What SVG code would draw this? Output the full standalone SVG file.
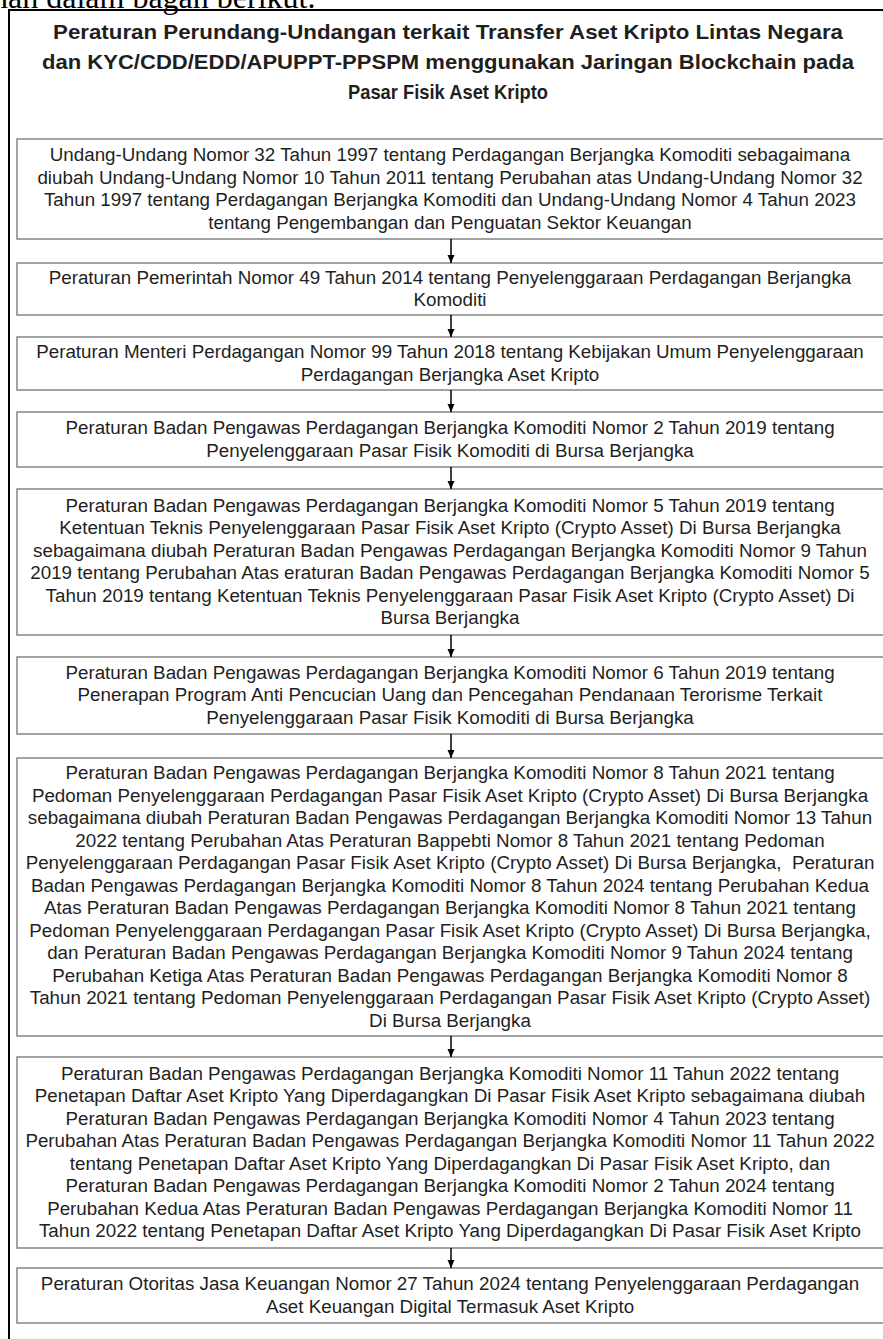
<svg xmlns="http://www.w3.org/2000/svg" width="883" height="1339" viewBox="0 0 883 1339">
<style>
.bg{fill:#fff}
.frame{fill:none;stroke:#000;stroke-width:2}
.box{fill:#fff;stroke:#858585;stroke-width:1.5}
.t{font-family:"Liberation Sans",Arial,sans-serif;font-size:18.8px;fill:#1f1f1f;text-anchor:middle}
.title{font-family:"Liberation Sans",Arial,sans-serif;font-size:20.5px;font-weight:bold;fill:#1f1f1f;text-anchor:middle}
.top{font-family:"Liberation Serif","Times New Roman",serif;font-size:32px;fill:#000}
.conn line{stroke:#000;stroke-width:1.5}
</style>
<defs>
<marker id="ah" viewBox="0 0 8 8" refX="8" refY="4" markerWidth="8" markerHeight="8" markerUnits="userSpaceOnUse" orient="auto">
<path d="M0,0.5 L8,4 L0,7.5 z" fill="#000"/>
</marker>
</defs>
<rect class="bg" x="0" y="0" width="883" height="1339"/>
<text class="top" x="-8" y="8">nah dalam bagan berikut.</text>
<path class="frame" d="M9,1339 V10 H890"/>
<g id="title">
<text class="title" x="448" y="39" textLength="790" lengthAdjust="spacingAndGlyphs">Peraturan Perundang-Undangan terkait Transfer Aset Kripto Lintas Negara</text>
<text class="title" x="448" y="69" textLength="812" lengthAdjust="spacingAndGlyphs">dan KYC/CDD/EDD/APUPPT-PPSPM menggunakan Jaringan Blockchain pada</text>
<text class="title" x="448" y="99" textLength="200" lengthAdjust="spacingAndGlyphs">Pasar Fisik Aset Kripto</text>
</g>
<g id="n1">
<rect class="box" x="17" y="139" width="880" height="100"/>
<text class="t" x="450" y="161">Undang-Undang Nomor 32 Tahun 1997 tentang Perdagangan Berjangka Komoditi sebagaimana</text>
<text class="t" x="450" y="184">diubah Undang-Undang Nomor 10 Tahun 2011 tentang Perubahan atas Undang-Undang Nomor 32</text>
<text class="t" x="450" y="206">Tahun 1997 tentang Perdagangan Berjangka Komoditi dan Undang-Undang Nomor 4 Tahun 2023</text>
<text class="t" x="450" y="229">tentang Pengembangan dan Penguatan Sektor Keuangan</text>
</g>
<g id="n2">
<rect class="box" x="17" y="263" width="880" height="52"/>
<text class="t" x="450" y="284">Peraturan Pemerintah Nomor 49 Tahun 2014 tentang Penyelenggaraan Perdagangan Berjangka</text>
<text class="t" x="450" y="306">Komoditi</text>
</g>
<g id="n3">
<rect class="box" x="17" y="337" width="880" height="53"/>
<text class="t" x="450" y="358">Peraturan Menteri Perdagangan Nomor 99 Tahun 2018 tentang Kebijakan Umum Penyelenggaraan</text>
<text class="t" x="450" y="381">Perdagangan Berjangka Aset Kripto</text>
</g>
<g id="n4">
<rect class="box" x="17" y="412" width="880" height="55"/>
<text class="t" x="450" y="434">Peraturan Badan Pengawas Perdagangan Berjangka Komoditi Nomor 2 Tahun 2019 tentang</text>
<text class="t" x="450" y="457">Penyelenggaraan Pasar Fisik Komoditi di Bursa Berjangka</text>
</g>
<g id="n5">
<rect class="box" x="17" y="489" width="880" height="146"/>
<text class="t" x="450" y="512">Peraturan Badan Pengawas Perdagangan Berjangka Komoditi Nomor 5 Tahun 2019 tentang</text>
<text class="t" x="450" y="534">Ketentuan Teknis Penyelenggaraan Pasar Fisik Aset Kripto (Crypto Asset) Di Bursa Berjangka</text>
<text class="t" x="450" y="557">sebagaimana diubah Peraturan Badan Pengawas Perdagangan Berjangka Komoditi Nomor 9 Tahun</text>
<text class="t" x="450" y="579">2019 tentang Perubahan Atas eraturan Badan Pengawas Perdagangan Berjangka Komoditi Nomor 5</text>
<text class="t" x="450" y="602">Tahun 2019 tentang Ketentuan Teknis Penyelenggaraan Pasar Fisik Aset Kripto (Crypto Asset) Di</text>
<text class="t" x="450" y="624">Bursa Berjangka</text>
</g>
<g id="n6">
<rect class="box" x="17" y="657" width="880" height="77"/>
<text class="t" x="450" y="679">Peraturan Badan Pengawas Perdagangan Berjangka Komoditi Nomor 6 Tahun 2019 tentang</text>
<text class="t" x="450" y="701">Penerapan Program Anti Pencucian Uang dan Pencegahan Pendanaan Terorisme Terkait</text>
<text class="t" x="450" y="724">Penyelenggaraan Pasar Fisik Komoditi di Bursa Berjangka</text>
</g>
<g id="n7">
<rect class="box" x="17" y="758" width="880" height="278"/>
<text class="t" x="450" y="779">Peraturan Badan Pengawas Perdagangan Berjangka Komoditi Nomor 8 Tahun 2021 tentang</text>
<text class="t" x="450" y="802">Pedoman Penyelenggaraan Perdagangan Pasar Fisik Aset Kripto (Crypto Asset) Di Bursa Berjangka</text>
<text class="t" x="450" y="824">sebagaimana diubah Peraturan Badan Pengawas Perdagangan Berjangka Komoditi Nomor 13 Tahun</text>
<text class="t" x="450" y="847">2022 tentang Perubahan Atas Peraturan Bappebti Nomor 8 Tahun 2021 tentang Pedoman</text>
<text class="t" x="450" y="869">Penyelenggaraan Perdagangan Pasar Fisik Aset Kripto (Crypto Asset) Di Bursa Berjangka,&#160; Peraturan</text>
<text class="t" x="450" y="892">Badan Pengawas Perdagangan Berjangka Komoditi Nomor 8 Tahun 2024 tentang Perubahan Kedua</text>
<text class="t" x="450" y="914">Atas Peraturan Badan Pengawas Perdagangan Berjangka Komoditi Nomor 8 Tahun 2021 tentang</text>
<text class="t" x="450" y="937">Pedoman Penyelenggaraan Perdagangan Pasar Fisik Aset Kripto (Crypto Asset) Di Bursa Berjangka,</text>
<text class="t" x="450" y="959">dan Peraturan Badan Pengawas Perdagangan Berjangka Komoditi Nomor 9 Tahun 2024 tentang</text>
<text class="t" x="450" y="982">Perubahan Ketiga Atas Peraturan Badan Pengawas Perdagangan Berjangka Komoditi Nomor 8</text>
<text class="t" x="450" y="1004">Tahun 2021 tentang Pedoman Penyelenggaraan Perdagangan Pasar Fisik Aset Kripto (Crypto Asset)</text>
<text class="t" x="450" y="1027">Di Bursa Berjangka</text>
</g>
<g id="n8">
<rect class="box" x="17" y="1057" width="880" height="191"/>
<text class="t" x="450" y="1080">Peraturan Badan Pengawas Perdagangan Berjangka Komoditi Nomor 11 Tahun 2022 tentang</text>
<text class="t" x="450" y="1102">Penetapan Daftar Aset Kripto Yang Diperdagangkan Di Pasar Fisik Aset Kripto sebagaimana diubah</text>
<text class="t" x="450" y="1125">Peraturan Badan Pengawas Perdagangan Berjangka Komoditi Nomor 4 Tahun 2023 tentang</text>
<text class="t" x="450" y="1147">Perubahan Atas Peraturan Badan Pengawas Perdagangan Berjangka Komoditi Nomor 11 Tahun 2022</text>
<text class="t" x="450" y="1170">tentang Penetapan Daftar Aset Kripto Yang Diperdagangkan Di Pasar Fisik Aset Kripto, dan</text>
<text class="t" x="450" y="1192">Peraturan Badan Pengawas Perdagangan Berjangka Komoditi Nomor 2 Tahun 2024 tentang</text>
<text class="t" x="450" y="1215">Perubahan Kedua Atas Peraturan Badan Pengawas Perdagangan Berjangka Komoditi Nomor 11</text>
<text class="t" x="450" y="1237">Tahun 2022 tentang Penetapan Daftar Aset Kripto Yang Diperdagangkan Di Pasar Fisik Aset Kripto</text>
</g>
<g id="n9">
<rect class="box" x="17" y="1268" width="880" height="55"/>
<text class="t" x="450" y="1290">Peraturan Otoritas Jasa Keuangan Nomor 27 Tahun 2024 tentang Penyelenggaraan Perdagangan</text>
<text class="t" x="450" y="1313">Aset Keuangan Digital Termasuk Aset Kripto</text>
</g>
<g id="connectors" class="conn">
<line x1="451" y1="239" x2="451" y2="263" marker-end="url(#ah)"/>
<line x1="451" y1="315" x2="451" y2="337" marker-end="url(#ah)"/>
<line x1="451" y1="390" x2="451" y2="412" marker-end="url(#ah)"/>
<line x1="451" y1="467" x2="451" y2="489" marker-end="url(#ah)"/>
<line x1="451" y1="635" x2="451" y2="657" marker-end="url(#ah)"/>
<line x1="451" y1="734" x2="451" y2="758" marker-end="url(#ah)"/>
<line x1="451" y1="1036" x2="451" y2="1057" marker-end="url(#ah)"/>
<line x1="451" y1="1248" x2="451" y2="1268" marker-end="url(#ah)"/>
</g>
</svg>
